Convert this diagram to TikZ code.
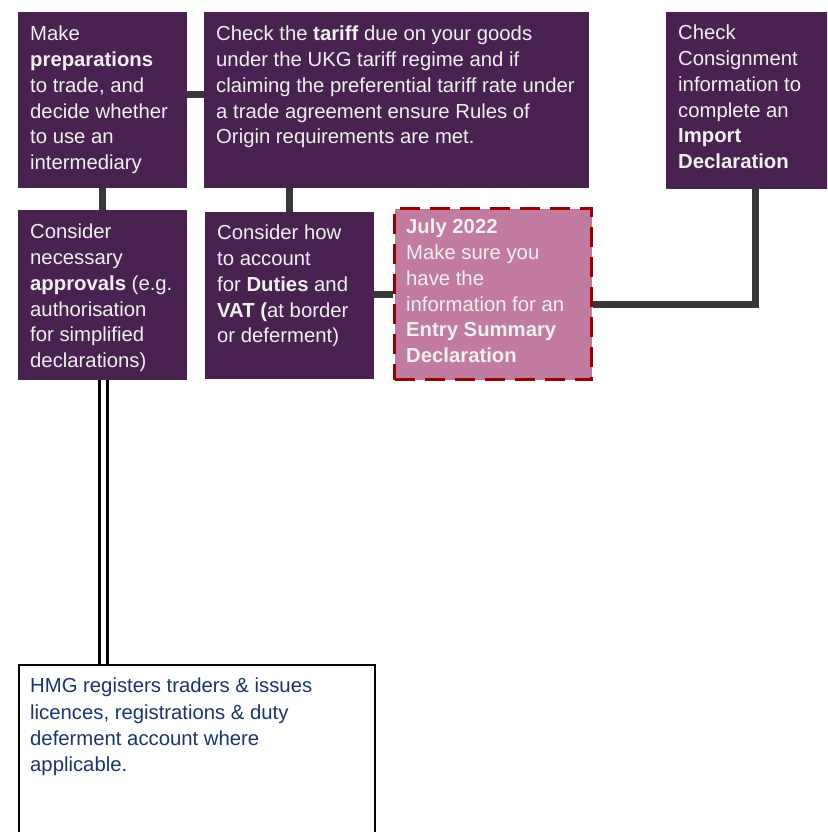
\documentclass[tikz,border=0pt]{standalone}
\usepackage{fontspec}
\setmainfont{Liberation Sans}
\definecolor{boxpurple}{RGB}{74,34,82}
\definecolor{boxpink}{RGB}{194,123,160}
\definecolor{dashred}{RGB}{153,0,0}
\definecolor{linkgray}{RGB}{56,56,56}
\definecolor{navytext}{RGB}{28,52,110}
\definecolor{paletext}{RGB}{240,240,240}
\begin{document}
\begin{tikzpicture}[x=1pt,y=-1pt,
  pbox/.style={rectangle, fill=boxpurple, draw=none, inner sep=0pt, anchor=north west},
  pinkbox/.style={rectangle, fill=boxpink, draw=dashred, line width=3.2pt, dash pattern=on 20pt off 10pt, inner sep=0pt, anchor=north west},
  wbox/.style={rectangle, fill=white, draw=black, line width=2.2pt, inner sep=0pt, anchor=north west},
  ptext/.style={anchor=north west, inner sep=0pt, align=left, text=paletext, font=\fontsize{20.3}{25.7}\selectfont},
  ntext/.style={anchor=north west, inner sep=0pt, align=left, text=navytext, font=\fontsize{20.3}{26.3}\selectfont},
  link/.style={draw=linkgray, line width=7pt},
  dlink/.style={draw=black, line width=3.5pt, double=white, double distance=4.5pt}
]
\clip (0,0) rectangle (827,832);
\fill[white] (0,0) rectangle (827,832);

% boxes
\node[pbox, minimum width=169pt, minimum height=176pt] (A) at (18,12) {};
\node[pbox, minimum width=385pt, minimum height=176pt] (B) at (204,12) {};
\node[pbox, minimum width=170pt, minimum height=177pt] (C) at (666,12) {};
\node[pbox, minimum width=169pt, minimum height=170pt] (D) at (18,210) {};
\node[pbox, minimum width=169pt, minimum height=167pt] (E) at (205,212) {};
\node[wbox, minimum width=356pt, minimum height=200pt] (G) at (18,664) {};

% connectors
\draw[link] ([yshift=6pt]A.east) -- ([yshift=6pt]B.west);
\draw[link] (A.south) -- (D.north);
\draw[link] (E.north) -- (E.north |- B.south);

\node[pinkbox, minimum width=197pt, minimum height=171pt] (F) at (393,207) {};

\draw[link] (F.west) -- (F.west -| E.east);
\draw[link] ([yshift=-10pt]F.east) -| ([xshift=4.5pt]C.south);
\draw[dlink] ([xshift=1pt]D.south) -- ([xshift=1pt]D.south |- G.north);

% texts
\node[ptext] (At) at (30,26) {Make\\\textbf{preparations}\\to trade, and\\decide whether\\to use an\\intermediary};
\node[ptext] (Bt) at (216,26) {Check the \textbf{tariff} due on your goods\\under the UKG tariff regime and if\\claiming the preferential tariff rate under\\a trade agreement ensure Rules of\\Origin requirements are met.};
\node[ptext] (Ct) at (678,25) {Check\\Consignment\\information to\\complete an\\\textbf{Import}\\\textbf{Declaration}};
\node[ptext] (Dt) at (30,224) {Consider\\necessary\\\textbf{approvals} (e.g.\\authorisation\\for simplified\\declarations)};
\node[ptext] (Et) at (217,225) {Consider how\\to account\\for \textbf{Duties} and\\\textbf{VAT (}at border\\or deferment)};
\node[ptext] (Ft) at (406,219) {\textbf{July 2022}\\Make sure you\\have the\\information for an\\\textbf{Entry Summary}\\\textbf{Declaration}};
\node[ntext] (Gt) at (30,678) {HMG registers traders \& issues\\licences, registrations \& duty\\deferment account where\\applicable.};
\end{tikzpicture}
\end{document}
